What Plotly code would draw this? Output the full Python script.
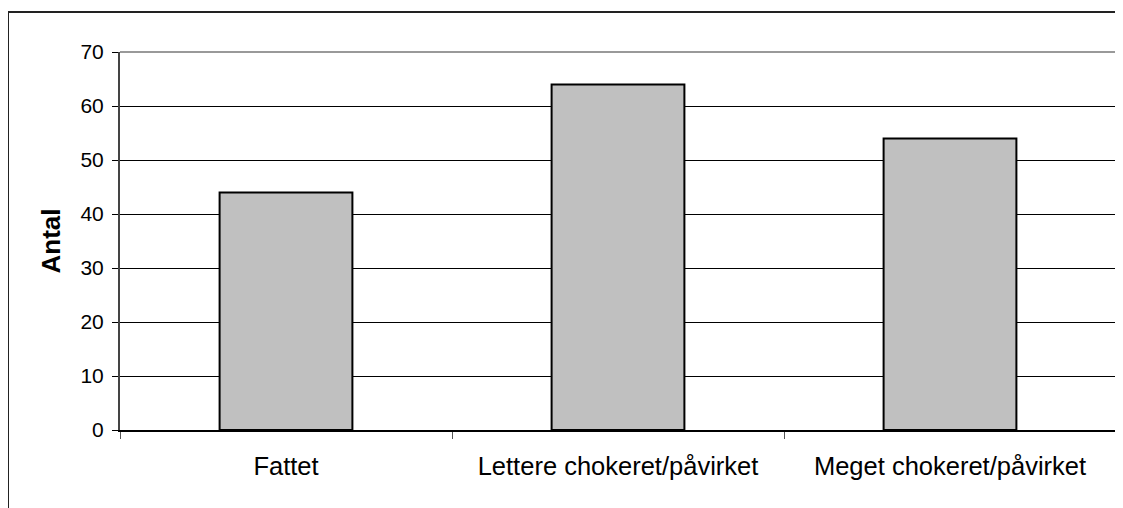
import plotly.graph_objects as go

categories = ["Fattet", "Lettere chokeret/påvirket", "Meget chokeret/påvirket"]
values = [44, 64, 54]
y_ticks = [0, 10, 20, 30, 40, 50, 60, 70]
y_title = "Antal"

# page body has an 8px margin; figure coordinates are page coordinates minus 8
OFF = 8
W, H = 1115, 500
L, R, T, B = 120 - OFF, 7, 52 - OFF, 78
pw = W - L - R
ph = H - T - B

def px(x):
    return (x - OFF - L) / pw

def py(y):
    return (H - B - (y - OFF)) / ph

fig = go.Figure(go.Bar(
    x=categories, y=values,
    marker=dict(color="#C0C0C0", line=dict(color="#000000", width=2)),
))

font = "Liberation Sans, Arial, sans-serif"
fig.update_layout(
    width=W, height=H, autosize=False,
    margin=dict(l=L, r=R, t=T, b=B, pad=0),
    paper_bgcolor="white", plot_bgcolor="white",
    bargap=0.6, showlegend=False,
    font=dict(family=font, color="black"),
    xaxis=dict(
        type="category", tickson="boundaries", ticks="outside", ticklen=7,
        tickwidth=1, tickcolor="#555555",
        showline=True, linecolor="#000000", linewidth=2,
        showgrid=False, tickfont=dict(size=25.5, family=font), zeroline=False,
        ticklabelstandoff=12,
    ),
    yaxis=dict(
        range=[0, 70], tickvals=y_ticks, ticks="outside", ticklen=6,
        tickwidth=1, tickcolor="#000000",
        showline=True, linecolor="#444444", linewidth=2,
        showgrid=True, gridcolor="#000000", gridwidth=1, zeroline=False,
        tickfont=dict(size=21, family=font), ticklabelstandoff=4,
        title=dict(text=y_title, font=dict(size=26, family=font, weight="bold"), standoff=12),
    ),
    shapes=[
        dict(type="line", xref="paper", yref="paper", x0=0, x1=1, y0=1, y1=1,
             line=dict(color="#999999", width=2)),
        dict(type="line", xref="paper", yref="paper", x0=1, x1=1, y0=0, y1=1,
             line=dict(color="#999999", width=2)),
        dict(type="line", xref="paper", yref="paper", x0=px(8), x1=px(1130), y0=py(12), y1=py(12),
             line=dict(color="#222222", width=2)),
        dict(type="line", xref="paper", yref="paper", x0=px(8), x1=px(8), y0=py(12), y1=py(520),
             line=dict(color="#222222", width=2)),
    ],
)

fig.write_html("out.html")
